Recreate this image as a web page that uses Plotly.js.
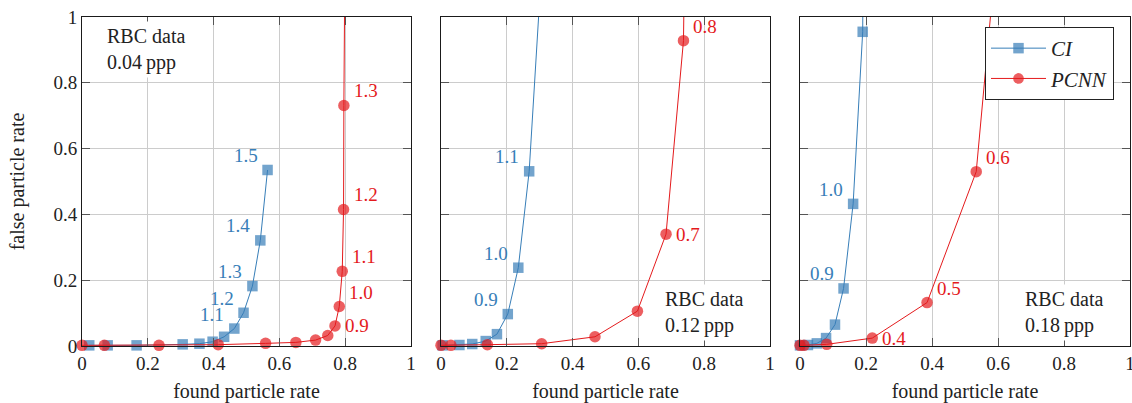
<!DOCTYPE html>
<html>
<head>
<meta charset="utf-8">
<script src="https://cdn.plot.ly/plotly-3.0.1.min.js"></script>
<style>html,body{margin:0;padding:0;background:#fff;}#chart{width:1132px;height:403px;}</style>
</head>
<body>
<div id="chart"></div>
<script>
// ---- Data ----
// Panel 1: RBC data 0.04 ppp
const ciX1 = [0.022, 0.078, 0.166, 0.306, 0.357, 0.397, 0.432, 0.463, 0.491, 0.518, 0.542, 0.564];
const ciY1 = [0.002, 0.002, 0.002, 0.005, 0.007, 0.013, 0.028, 0.053, 0.101, 0.182, 0.321, 0.535];
const ciLab1 = ['', '', '', '', '', '', '', '1.1', '1.2', '1.3', '1.4', '1.5'];
const pcX1 = [0.0, 0.068, 0.234, 0.414, 0.558, 0.650, 0.710, 0.747, 0.769, 0.782, 0.791, 0.795, 0.796, 0.800];
const pcY1 = [0.002, 0.002, 0.002, 0.004, 0.008, 0.011, 0.018, 0.032, 0.061, 0.120, 0.227, 0.415, 0.731, 1.300];
const pcLab1 = ['', '', '', '', '', '', '', '', '0.9', '1.0', '1.1', '1.2', '1.3', ''];

// Panel 2: RBC data 0.12 ppp
const ciX2 = [0.005, 0.056, 0.095, 0.136, 0.170, 0.203, 0.235, 0.268, 0.315];
const ciY2 = [0.002, 0.003, 0.006, 0.015, 0.036, 0.097, 0.238, 0.531, 1.300];
const ciLab2 = ['', '', '', '', '', '0.9', '1.0', '1.1', ''];
const pcX2 = [0.0, 0.030, 0.141, 0.306, 0.468, 0.597, 0.684, 0.737, 0.742];
const pcY2 = [0.002, 0.002, 0.004, 0.007, 0.028, 0.106, 0.340, 0.928, 1.300];
const pcLab2 = ['', '', '', '', '', '', '0.7', '0.8', ''];

// Panel 3: RBC data 0.18 ppp
const ciX3 = [0.0, 0.024, 0.051, 0.079, 0.106, 0.132, 0.161, 0.190, 0.192];
const ciY3 = [0.002, 0.003, 0.008, 0.024, 0.065, 0.175, 0.432, 0.955, 1.300];
const ciLab3 = ['', '', '', '', '', '0.9', '1.0', '', ''];
const pcX3 = [0.0, 0.012, 0.081, 0.219, 0.385, 0.534, 0.600];
const pcY3 = [0.002, 0.002, 0.005, 0.024, 0.132, 0.530, 1.250];
const pcLab3 = ['', '', '', '0.4', '0.5', '0.6', ''];

const panelTexts = ['RBC data<br>0.04\u2009ppp', 'RBC data<br>0.12\u2009ppp', 'RBC data<br>0.18\u2009ppp'];
const tickVals = [0, 0.2, 0.4, 0.6, 0.8, 1];
const tickText = ['0', '0.2', '0.4', '0.6', '0.8', '1'];
const xTitle = 'found particle rate';
const yTitle = 'false particle rate';
const ciName = 'CI';
const pcName = 'PCNN';

// ---- Styling ----
const BLUE = '#377eb8';
const RED = '#e41a1c';
const TXT = '#222222';
const FONT = 'Liberation Serif, DejaVu Serif, serif';
const W = 1132, H = 403;
const xDom = [[82 / W, 411 / W], [441 / W, 770 / W], [800 / W, 1130 / W]];
const yDom = [57 / H, 386 / H];
// "RBC data" boxes: text left edge / vertical centre (axis-domain fractions)
const boxPos = [{x: 0.064, y: 0.902}, {x: 0.670, y: 0.102}, {x: 0.671, y: 0.102}];

const panels = [
  {ciX: ciX1, ciY: ciY1, ciL: ciLab1, pcX: pcX1, pcY: pcY1, pcL: pcLab1},
  {ciX: ciX2, ciY: ciY2, ciL: ciLab2, pcX: pcX2, pcY: pcY2, pcL: pcLab2},
  {ciX: ciX3, ciY: ciY3, ciL: ciLab3, pcX: pcX3, pcY: pcY3, pcL: pcLab3}
];

const traces = [];
const annotations = [];
panels.forEach((p, i) => {
  const xa = i === 0 ? 'x' : 'x' + (i + 1);
  const ya = i === 0 ? 'y' : 'y' + (i + 1);
  const sizeFor = (ys, s) => ys.map(v => (v <= 1 ? s : 0));
  traces.push({
    x: p.ciX, y: p.ciY, xaxis: xa, yaxis: ya, type: 'scatter', mode: 'lines+markers',
    name: '<i>' + ciName + '</i>', legendgroup: 'ci', showlegend: i === 0,
    line: {color: BLUE, width: 1},
    marker: {symbol: 'square', color: BLUE, size: sizeFor(p.ciY, 10.5), line: {width: 0}},
    cliponaxis: false, hoverinfo: 'x+y'
  });
  traces.push({
    x: p.pcX, y: p.pcY, xaxis: xa, yaxis: ya, type: 'scatter', mode: 'lines+markers',
    name: '<i>' + pcName + '</i>', legendgroup: 'pc', showlegend: i === 0,
    line: {color: RED, width: 1},
    marker: {symbol: 'circle', color: RED, size: sizeFor(p.pcY, 11.5), line: {width: 0}},
    cliponaxis: false, hoverinfo: 'x+y'
  });
  // value labels: CI above-left, PCNN above-right (lowest labelled PCNN point: right)
  p.ciL.forEach((t, k) => {
    if (!t) return;
    annotations.push({xref: xa, yref: ya, x: p.ciX[k], y: p.ciY[k], text: t, showarrow: false,
      xanchor: 'center', yanchor: 'middle', xshift: -22, yshift: 14.5,
      font: {family: FONT, size: 19, color: BLUE}});
  });
  let first = true;
  p.pcL.forEach((t, k) => {
    if (!t) return;
    annotations.push({xref: xa, yref: ya, x: p.pcX[k], y: p.pcY[k], text: t, showarrow: false,
      xanchor: 'center', yanchor: 'middle', xshift: 22, yshift: first ? 0 : 14.5,
      font: {family: FONT, size: 19, color: RED}});
    first = false;
  });
  const b = boxPos[i];
  annotations.push({xref: xa + ' domain', yref: ya + ' domain', x: b.x, y: b.y, text: panelTexts[i],
    showarrow: false, xanchor: 'left', yanchor: 'middle', align: 'left',
    bgcolor: '#ffffff', borderpad: 3, font: {family: FONT, size: 20, color: TXT}});
});

const axisCommon = {
  range: [0, 1], tickvals: tickVals, ticktext: tickText,
  showgrid: true, gridcolor: '#cccccc', gridwidth: 1, zeroline: false,
  showline: true, linecolor: '#1a1a1a', linewidth: 1, mirror: 'ticks',
  ticks: 'inside', ticklen: 8, tickcolor: '#555555', tickwidth: 1, ticklabeloverflow: 'allow',
  tickfont: {family: FONT, size: 19, color: TXT}, fixedrange: true
};

const layout = {
  width: W, height: H, margin: {l: 0, r: 0, t: 0, b: 0},
  paper_bgcolor: '#fff', plot_bgcolor: '#fff',
  font: {family: FONT, size: 19, color: TXT},
  showlegend: true,
  legend: {x: 985 / W, y: 1 - 27 / H, xanchor: 'left', yanchor: 'top', bgcolor: '#fff',
    bordercolor: '#222', borderwidth: 1, font: {family: FONT, size: 21, color: TXT},
    itemwidth: 55, tracegroupgap: 0},
  annotations: annotations
};
for (let i = 0; i < 3; i++) {
  const xk = i === 0 ? 'xaxis' : 'xaxis' + (i + 1);
  const yk = i === 0 ? 'yaxis' : 'yaxis' + (i + 1);
  layout[xk] = Object.assign({}, axisCommon, {domain: xDom[i], anchor: i === 0 ? 'y' : 'y' + (i + 1),
    title: {text: xTitle, font: {family: FONT, size: 20, color: TXT}, standoff: 11}});
  layout[yk] = Object.assign({}, axisCommon, {domain: yDom, anchor: i === 0 ? 'x' : 'x' + (i + 1),
    showticklabels: i === 0});
  if (i === 0) layout[yk].title = {text: yTitle, font: {family: FONT, size: 20, color: TXT}, standoff: 23};
}

Plotly.newPlot('chart', traces, layout, {displayModeBar: false, staticPlot: true});
</script>
</body>
</html>
